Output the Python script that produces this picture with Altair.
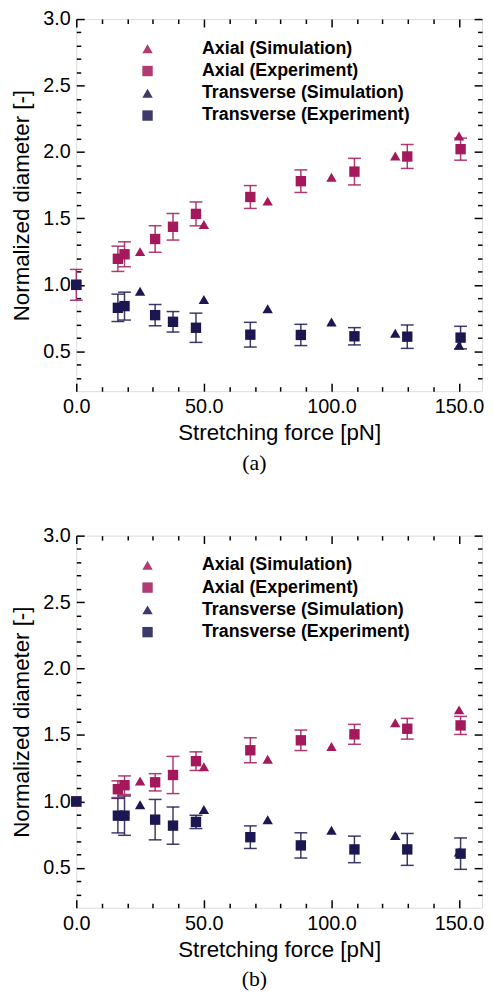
import altair as alt
import pandas as pd

# ---------------- data ----------------
force_exp = [0.0, 16.3, 18.9, 30.9, 37.9, 46.9, 68.2, 88.0, 109.0, 129.7, 150.6]
force_sim = [25, 50, 75, 100, 125, 150]

# panel (a)
a_axial_exp = [1.0, 1.196, 1.23, 1.345, 1.437, 1.534, 1.661, 1.78, 1.852, 1.966, 2.021]
a_axial_err = [0.116, 0.095, 0.094, 0.10, 0.10, 0.09, 0.086, 0.085, 0.10, 0.09, 0.083]
a_trans_exp = [1.0, 0.827, 0.84, 0.772, 0.722, 0.677, 0.625, 0.623, 0.613, 0.61, 0.603]
a_trans_err = [0.0, 0.103, 0.105, 0.08, 0.077, 0.11, 0.093, 0.08, 0.065, 0.088, 0.085]
a_axial_sim = [1.25, 1.455, 1.63, 1.81, 1.97, 2.12]
a_trans_sim = [0.951, 0.889, 0.82, 0.72, 0.636, 0.546]

# panel (b)
b_axial_exp = [1.0, 1.092, 1.122, 1.144, 1.199, 1.303, 1.385, 1.46, 1.505, 1.547, 1.572]
b_axial_err = [0.0, 0.063, 0.07, 0.065, 0.14, 0.07, 0.094, 0.077, 0.075, 0.078, 0.068]
b_trans_exp = [1.0, 0.893, 0.893, 0.863, 0.818, 0.846, 0.731, 0.669, 0.639, 0.639, 0.607]
b_trans_err = [0.0, 0.13, 0.148, 0.152, 0.14, 0.05, 0.085, 0.095, 0.10, 0.12, 0.118]
b_axial_sim = [1.154, 1.261, 1.318, 1.413, 1.592, 1.689]
b_trans_sim = [0.975, 0.94, 0.863, 0.783, 0.743, 0.619]

series_names = ["Axial (Simulation)", "Axial (Experiment)",
                "Transverse (Simulation)", "Transverse (Experiment)"]
series_colors = ["#A3195B", "#A3195B", "#1C1651", "#1C1651"]
series_shapes = ["triangle-up", "square", "triangle-up", "square"]

x_major = [0, 50, 100, 150]
x_minor = [10, 20, 30, 40, 60, 70, 80, 90, 110, 120, 130, 140]
y_major = [0.5, 1.0, 1.5, 2.0, 2.5, 3.0]
y_minor = [0.3, 0.4, 0.6, 0.7, 0.8, 0.9, 1.1, 1.2, 1.3, 1.4, 1.6, 1.7, 1.8, 1.9,
           2.1, 2.2, 2.3, 2.4, 2.6, 2.7, 2.8, 2.9]

W, H = 410, 376
SANS = "Liberation Sans"


def frames(ax_exp, ax_err, tr_exp, tr_err, ax_sim, tr_sim):
    pts, errs = [], []
    for f, v in zip(force_exp, ax_exp):
        pts.append({"force": f, "value": v, "series": series_names[1]})
    for f, v in zip(force_sim, ax_sim):
        pts.append({"force": f, "value": v, "series": series_names[0]})
    for f, v in zip(force_exp, tr_exp):
        pts.append({"force": f, "value": v, "series": series_names[3]})
    for f, v in zip(force_sim, tr_sim):
        pts.append({"force": f, "value": v, "series": series_names[2]})
    for f, v, e in zip(force_exp, ax_exp, ax_err):
        if e > 0:
            errs.append({"force": f, "lo": v - e, "hi": v + e, "col": series_colors[1]})
    for f, v, e in zip(force_exp, tr_exp, tr_err):
        if e > 0:
            errs.append({"force": f, "lo": v - e, "hi": v + e, "col": series_colors[3]})
    return pd.DataFrame(pts), pd.DataFrame(errs)


xs = alt.Scale(domain=[0, 159], nice=False, zero=False)
ys = alt.Scale(domain=[0.2, 3.0], nice=False, zero=False)
cs = alt.Scale(domain=series_names, range=series_colors)
ss = alt.Scale(domain=series_names, range=series_shapes)


def tick_axis(orient, offset, values, size):
    return alt.Axis(orient=orient, offset=offset, values=values, tickSize=size,
                    tickWidth=1.5, tickColor="black", labels=False, domain=False,
                    grid=False, title=None)


def panel(pts, errs, caption):
    x_lab = alt.Axis(orient="bottom", values=x_major, format=".1f", ticks=False,
                     domain=False, grid=False, labelFontSize=20, labelPadding=6,
                     labelColor="black", labelFont=SANS, labelFlush=False,
                     title="Stretching force [pN]", titleFontSize=22.5,
                     titleFontWeight="normal", titleFont=SANS, titleColor="black",
                     titlePadding=5)
    y_lab = alt.Axis(orient="left", values=y_major, format=".1f", ticks=False,
                     domain=False, grid=False, labelFontSize=20, labelPadding=6,
                     labelColor="black", labelFont=SANS, labelFlush=False,
                     title="Normalized diameter [-]", titleFontSize=22.5,
                     titleFontWeight="normal", titleFont=SANS, titleColor="black",
                     titlePadding=9)

    rules = alt.Chart(errs).mark_rule(strokeWidth=1.5, opacity=0.85).encode(
        x=alt.X("force:Q", scale=xs, axis=x_lab),
        y=alt.Y("lo:Q", scale=ys, axis=y_lab),
        y2="hi:Q",
        color=alt.Color("col:N", scale=None),
    )
    cap_hi = alt.Chart(errs).mark_tick(orient="horizontal", size=13, thickness=1.5,
                                       opacity=0.85).encode(
        x=alt.X("force:Q", scale=xs, axis=tick_axis("top", -H, x_major, 8)),
        y=alt.Y("hi:Q", scale=ys, axis=tick_axis("right", -W, y_major, 8)),
        color=alt.Color("col:N", scale=None),
    )
    cap_lo = alt.Chart(errs).mark_tick(orient="horizontal", size=13, thickness=1.5,
                                       opacity=0.85).encode(
        x=alt.X("force:Q", scale=xs, axis=tick_axis("top", -H, x_minor, 4.5)),
        y=alt.Y("lo:Q", scale=ys, axis=tick_axis("right", -W, y_minor, 4.5)),
        color=alt.Color("col:N", scale=None),
    )
    points = alt.Chart(pts).mark_point(filled=True, size=110, opacity=1,
                                       strokeWidth=0).encode(
        x=alt.X("force:Q", scale=xs, axis=tick_axis("bottom", -H, x_major, 8)),
        y=alt.Y("value:Q", scale=ys, axis=tick_axis("left", -W, y_major, 8)),
        color=alt.Color("series:N", scale=cs, sort=series_names,
                        legend=alt.Legend(orient="none", legendX=63, legendY=21,
                                          title=None, labelFontSize=18,
                                          labelFontWeight="bold", labelFont=SANS,
                                          labelColor="black", labelLimit=400,
                                          symbolSize=110, symbolOpacity=1,
                                          labelOffset=46, rowPadding=4.5)),
        shape=alt.Shape("series:N", scale=ss, sort=series_names),
    )
    dummy = alt.Chart(pts).mark_point(opacity=0).encode(
        x=alt.X("force:Q", scale=xs, axis=tick_axis("bottom", -H, x_minor, 4.5)),
        y=alt.Y("value:Q", scale=ys, axis=tick_axis("left", -W, y_minor, 4.5)),
    )
    return alt.layer(rules, cap_hi, cap_lo, points, dummy).resolve_axis(
        x="independent", y="independent"
    ).properties(
        width=W, height=H,
        title=alt.TitleParams(caption, orient="bottom", font="Liberation Serif",
                              fontSize=22, fontWeight="normal", color="black",
                              offset=9, anchor="middle", frame="group", dx=-25),
    )


pa_pts, pa_err = frames(a_axial_exp, a_axial_err, a_trans_exp, a_trans_err,
                        a_axial_sim, a_trans_sim)
pb_pts, pb_err = frames(b_axial_exp, b_axial_err, b_trans_exp, b_trans_err,
                        b_axial_sim, b_trans_sim)

chart = alt.vconcat(
    panel(pa_pts, pa_err, "(a)"),
    panel(pb_pts, pb_err, "(b)"),
    spacing=51,
).resolve_legend(color="independent", shape="independent").configure_view(
    stroke="black", strokeWidth=2
).configure(font=SANS, padding={"left": 2, "top": -5, "right": 0, "bottom": 0})

chart.save("out.html", embed_options={"renderer": "svg", "actions": False})
